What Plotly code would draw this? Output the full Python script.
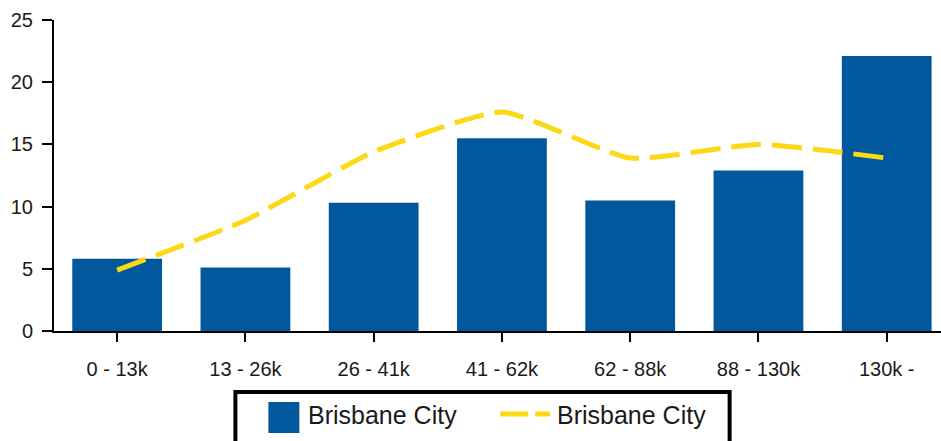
import plotly.graph_objects as go

categories = ["0 - 13k", "13 - 26k", "26 - 41k", "41 - 62k", "62 - 88k", "88 - 130k", "130k -"]
bar_values = [5.8, 5.1, 10.3, 15.5, 10.5, 12.9, 22.1]
line_values = [4.9, 8.9, 14.4, 17.6, 13.9, 15.0, 13.9]
bar_name = "Brisbane City"
line_name = "Brisbane City"
y_ticks = [0, 5, 10, 15, 20, 25]

BAR_COLOR = "#02589C"
LINE_COLOR = "#FDD816"
FONT = "Liberation Sans, Arial, sans-serif"
TEXT = "#1a1a1a"

W, H = 941, 441
ML, MT, MB, MR = 53.5, 20, 110, 0
plot_w = W - ML - MR
plot_h = H - MT - MB

# category spacing in px -> x range
step = 128.33
first_center = 116.7
x0 = -(first_center - ML) / step
x1 = (W - first_center) / step

fig = go.Figure()
fig.add_trace(go.Bar(
    x=list(range(len(categories))), y=bar_values, name=bar_name,
    marker=dict(color=BAR_COLOR, line=dict(width=0)),
    showlegend=False,
))
fig.add_trace(go.Scatter(
    x=list(range(len(categories))), y=line_values, name=line_name, mode="lines",
    line=dict(color=LINE_COLOR, width=5, dash="30px,11px", shape="spline", smoothing=0.5),
    showlegend=False,
))

def px_x(p):
    return (p - ML) / plot_w

def px_y(p):
    return (H - MB - p) / plot_h

shapes = [
    dict(type="rect", xref="paper", yref="paper",
         x0=px_x(235), x1=px_x(729.5), y0=px_y(392), y1=px_y(460),
         line=dict(color="black", width=4), fillcolor="white", layer="above"),
    dict(type="rect", xref="paper", yref="paper",
         x0=px_x(268), x1=px_x(299), y0=px_y(402), y1=px_y(433),
         line=dict(width=0), fillcolor=BAR_COLOR, layer="above"),
    dict(type="line", xref="paper", yref="paper",
         x0=px_x(500), x1=px_x(550), y0=px_y(414), y1=px_y(414),
         line=dict(color=LINE_COLOR, width=5, dash="28px,7px"), layer="above"),
]
annotations = [
    dict(xref="paper", yref="paper", x=px_x(306), y=px_y(415), text=bar_name,
         showarrow=False, xanchor="left", yanchor="middle",
         font=dict(family=FONT, size=25, color=TEXT)),
    dict(xref="paper", yref="paper", x=px_x(555), y=px_y(415), text=line_name,
         showarrow=False, xanchor="left", yanchor="middle",
         font=dict(family=FONT, size=25, color=TEXT)),
]

fig.update_layout(
    width=W, height=H,
    margin=dict(l=ML, r=MR, t=MT, b=MB, pad=0),
    paper_bgcolor="white", plot_bgcolor="white",
    bargap=0.3,
    font=dict(family=FONT, color=TEXT),
    shapes=shapes, annotations=annotations,
    xaxis=dict(
        range=[x0, x1], tickmode="array",
        tickvals=list(range(len(categories))), ticktext=categories,
        showgrid=False, zeroline=False,
        showline=True, linecolor="black", linewidth=2,
        ticks="outside", ticklen=9, tickwidth=2, tickcolor="black",
        tickfont=dict(family=FONT, size=20, color=TEXT),
        ticklabelstandoff=10,
    ),
    yaxis=dict(
        range=[0, 25], tickmode="array", tickvals=y_ticks,
        showgrid=False, zeroline=False,
        showline=True, linecolor="black", linewidth=2,
        ticks="outside", ticklen=10, tickwidth=2, tickcolor="black",
        tickfont=dict(family=FONT, size=20, color=TEXT),
        ticklabelstandoff=5,
    ),
)

fig.write_html(
    "out.html",
    config={"displayModeBar": False},
    post_script="document.body.style.margin='0';document.body.style.overflow='hidden';",
)
